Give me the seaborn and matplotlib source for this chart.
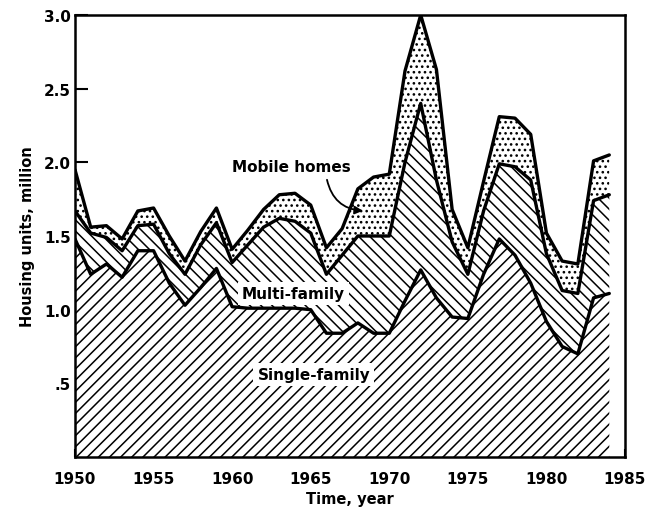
import matplotlib
matplotlib.use("Agg")
import numpy as np
import pandas as pd
import matplotlib.pyplot as plt
import seaborn as sns

# Housing units started per year, million
years = list(range(1950, 1985))
single_family = [1.48, 1.24, 1.31, 1.22, 1.40, 1.40, 1.18, 1.03, 1.15, 1.28,
                 1.02, 1.01, 1.01, 1.01, 1.01, 1.00, 0.84, 0.84, 0.91, 0.84,
                 0.84, 1.06, 1.27, 1.08, 0.95, 0.94, 1.24, 1.48, 1.37, 1.18,
                 0.92, 0.75, 0.70, 1.08, 1.11]
multi_family = [0.19, 0.28, 0.18, 0.18, 0.17, 0.18, 0.20, 0.21, 0.29, 0.31,
                0.30, 0.43, 0.55, 0.61, 0.59, 0.52, 0.40, 0.53, 0.59, 0.66,
                0.66, 0.94, 1.13, 0.80, 0.51, 0.30, 0.43, 0.51, 0.60, 0.70,
                0.46, 0.38, 0.41, 0.66, 0.67]
mobile_homes = [0.28, 0.04, 0.08, 0.08, 0.10, 0.11, 0.12, 0.09, 0.09, 0.10,
                0.09, 0.10, 0.12, 0.16, 0.19, 0.19, 0.18, 0.18, 0.32, 0.40,
                0.42, 0.62, 0.60, 0.75, 0.22, 0.18, 0.20, 0.32, 0.33, 0.31,
                0.14, 0.20, 0.20, 0.27, 0.27]

x_ticks = [1950, 1955, 1960, 1965, 1970, 1975, 1980, 1985]
y_ticks = [0.5, 1.0, 1.5, 2.0, 2.5, 3.0]
y_tick_labels = [".5", "1.0", "1.5", "2.0", "2.5", "3.0"]

sns.set_style("ticks")
plt.rcParams["font.family"] = ["DejaVu Sans"]
plt.rcParams["hatch.linewidth"] = 1.1
for key in ["text.color", "axes.labelcolor", "xtick.color", "ytick.color"]:
    plt.rcParams[key] = "black"

df = pd.DataFrame({
    "year": years,
    "single": single_family,
    "multi": multi_family,
    "mobile": mobile_homes,
})
df["sf_top"] = df["single"]
df["mf_top"] = df["single"] + df["multi"]
df["total"] = df["mf_top"] + df["mobile"]

fig = plt.figure(figsize=(6.49, 5.10), dpi=100)
ax = fig.add_axes([75 / 649, 52 / 510, 550 / 649, 442 / 510])

ax.fill_between(df["year"], 0, df["sf_top"], facecolor="white",
                edgecolor="black", hatch="///", linewidth=0)
ax.fill_between(df["year"], df["sf_top"], df["mf_top"], facecolor="white",
                edgecolor="black", hatch="\\\\\\", linewidth=0)
ax.fill_between(df["year"], df["mf_top"], df["total"], facecolor="white",
                edgecolor="black", hatch="...", linewidth=0)

for col in ["sf_top", "mf_top", "total"]:
    sns.lineplot(data=df, x="year", y=col, color="black", linewidth=2.4,
                 ax=ax, legend=False)

lab = dict(fontsize=11, fontweight="bold", ha="center", va="center")
ax.text(1963.8, 1.97, "Mobile homes", **lab)
ax.text(1963.9, 1.11, "Multi-family",
        bbox=dict(facecolor="white", edgecolor="none", pad=3), **lab)
ax.text(1965.2, 0.56, "Single-family",
        bbox=dict(facecolor="white", edgecolor="none", pad=3), **lab)
ax.annotate("", xy=(1968.5, 1.67), xytext=(1966.0, 1.90),
            arrowprops=dict(arrowstyle="-|>", color="black", lw=1.3,
                            mutation_scale=12,
                            connectionstyle="arc3,rad=0.4"))

ax.set_xlim(1950, 1985)
ax.set_ylim(0, 3.0)
ax.set_xticks(x_ticks)
ax.set_xticklabels([str(t) for t in x_ticks])
ax.set_yticks(y_ticks)
ax.set_yticklabels(y_tick_labels)
ax.tick_params(axis="both", direction="in", width=1.5, labelsize=11)
ax.tick_params(axis="y", length=9, pad=3)
ax.tick_params(axis="x", length=6, pad=10)
for t in ax.get_xticklabels() + ax.get_yticklabels():
    t.set_fontweight("bold")

for side in ["top", "right", "bottom", "left"]:
    ax.spines[side].set_visible(True)
    ax.spines[side].set_linewidth(1.8)
    ax.spines[side].set_color("black")

ax.set_xlabel("Time, year", fontsize=10.5, fontweight="bold", labelpad=4)
ax.set_ylabel("Housing units, million", fontsize=10.5, fontweight="bold",
              labelpad=6)

fig.savefig("out.png", dpi=100)
